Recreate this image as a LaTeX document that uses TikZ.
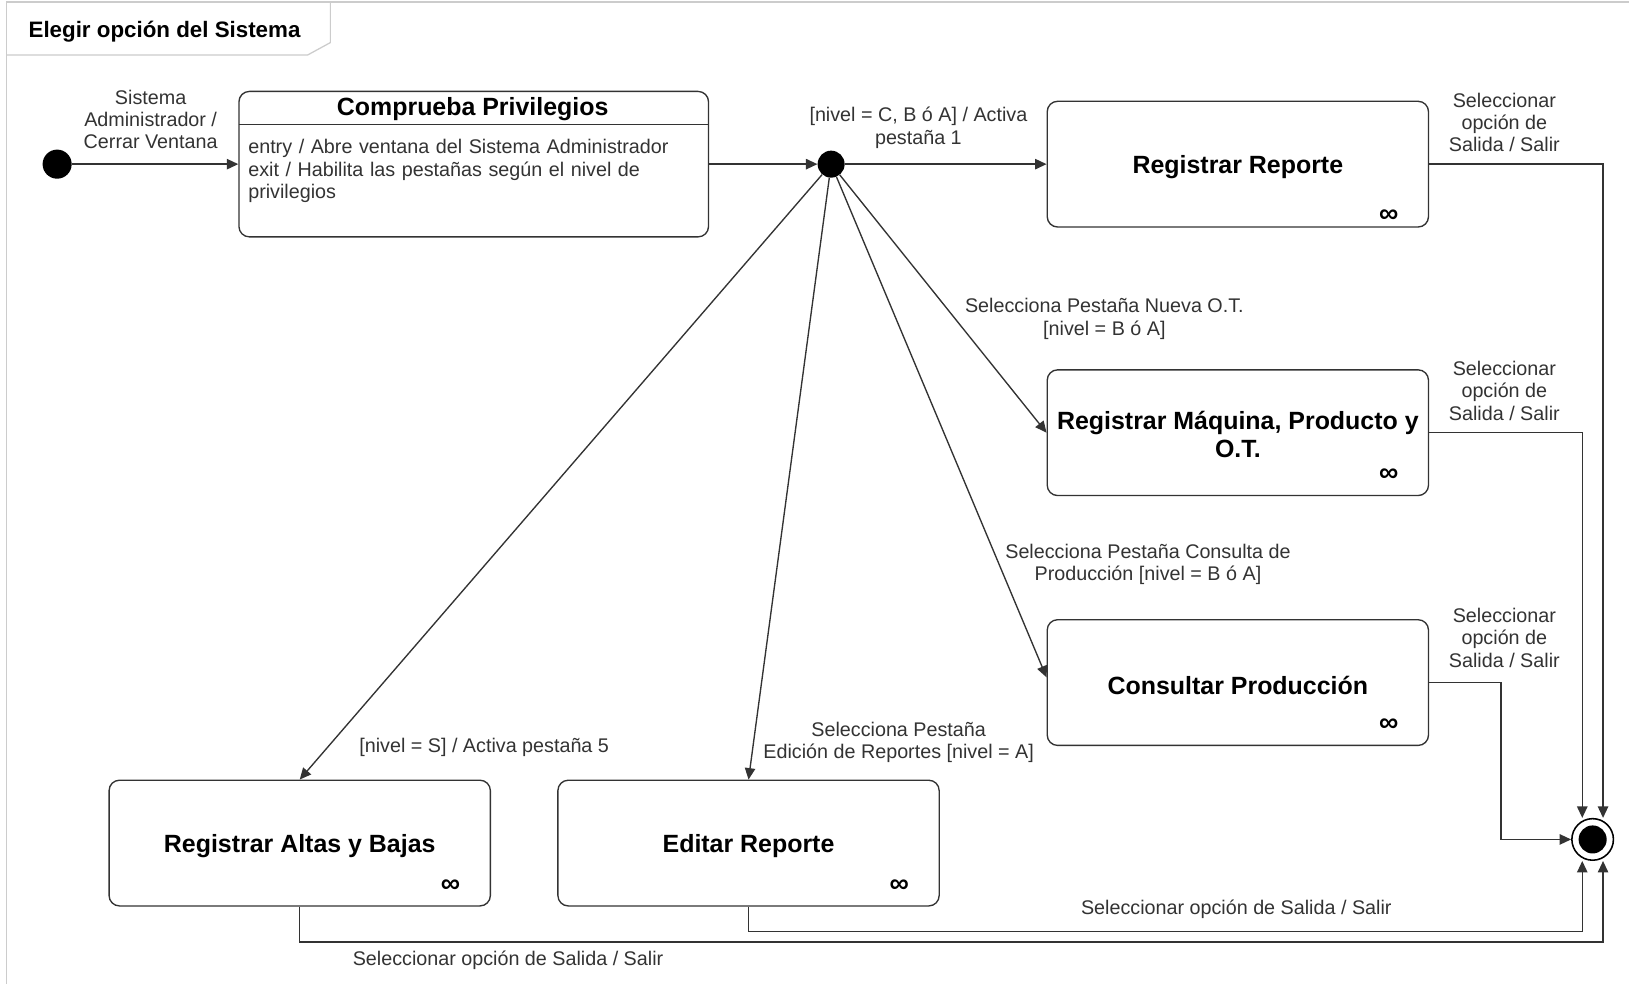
\documentclass[tikz,border=0pt]{standalone}
\usepackage{fontspec}
\setmainfont{Liberation Sans}
\usetikzlibrary{arrows.meta}
\definecolor{ln}{HTML}{333333}
\definecolor{lbl}{HTML}{333333}
\definecolor{frm}{HTML}{CCCCCC}

\begin{document}
\begin{tikzpicture}[x=1pt,y=-1pt,
  every node/.style={font=\fontsize{19}{21.5}\selectfont},
  stbox/.style={draw=ln, line width=1.3pt, rounded corners=10pt,
    minimum width=367pt, minimum height=121pt, inner sep=0pt},
  sttext/.style={align=center, inner sep=0pt, font=\fontsize{24}{27}\bfseries\selectfont},
  edge/.style={draw=ln, line width=1.3pt, -{Triangle[length=11pt,width=10pt]}},
  lab/.style={text=lbl, align=center, inner sep=0pt},
  inf/.style={font=\fontsize{26}{26}\bfseries\selectfont, inner sep=0pt}
]
\useasboundingbox (0,0) rectangle (1568,947);
\fill[white] (0,0) rectangle (1568,947);

% frame and its name tab
\draw[frm, line width=1.2pt] (6,947) -- (6,2) -- (1568,2);
\draw[frm, line width=1.2pt] (6,53) -- (296,53) -- (318,41) -- (318,2);
\node[anchor=west, font=\fontsize{21.5}{24}\bfseries\selectfont] (title) at (24,30.5) {Elegir opción del Sistema};

% pseudo-states
\node[circle, fill=black, minimum size=28pt, inner sep=0pt] (ini) at (55,158) {};
\node[circle, fill=black, minimum size=26pt, inner sep=0pt] (jn) at (800,158) {};
\node[circle, draw=black, line width=1.5pt, minimum size=40pt, inner sep=0pt,
  path picture={\fill[black] (path picture bounding box.center) circle (13.5pt);}] (fin) at (1533,808) {};

% composite state with entry/exit actions
\node[draw=ln, line width=1.3pt, rounded corners=10pt, minimum width=452pt,
  minimum height=140pt, inner sep=0pt] (comp) at (456,158) {};
\node[font=\fontsize{24}{27}\bfseries\selectfont, inner sep=0pt] (comptitle) at (455,105) {Comprueba Privilegios};
\draw[ln, line width=1.3pt] (230,120) -- (682,120);
\node[anchor=center, align=left, text=lbl, inner sep=0pt, text width=440pt] (compbody) at (459,164.5)
  {entry / Abre ventana del Sistema Administrador\\exit / Habilita las pestañas según el nivel de\\privilegios};

% states
\node[stbox] (RR) at (1191.5,158) {};
\node[stbox] (RM) at (1191.5,416.5) {};
\node[stbox] (CP) at (1191.5,657) {};
\node[stbox] (RA) at (288.5,811.5) {};
\node[stbox] (ER) at (720.5,811.5) {};

\node[sttext] (RRt) at ([yshift=-2.5pt]RR.center) {Registrar Reporte};
\node[sttext] (RMt) at ([yshift=-2pt]RM.center) {Registrar Máquina, Producto y\\O.T.};
\node[sttext] (CPt) at ([yshift=-2.5pt]CP.center) {Consultar Producción};
\node[sttext] (RAt) at ([yshift=-2.5pt]RA.center) {Registrar Altas y Bajas};
\node[sttext] (ERt) at ([yshift=-2.5pt]ER.center) {Editar Reporte};

\node[inf] (rr8) at ([xshift=-39pt,yshift=11pt]RR.south east) {∞};
\node[inf] (rm8) at ([xshift=-39pt,yshift=20pt]RM.south east) {∞};
\node[inf] (cp8) at ([xshift=-39pt,yshift=20pt]CP.south east) {∞};
\node[inf] (ra8) at ([xshift=-39pt,yshift=20pt]RA.south east) {∞};
\node[inf] (er8) at ([xshift=-39pt,yshift=20pt]ER.south east) {∞};

% transitions
\draw[edge] (ini) -- (comp);
\draw[edge] (comp) -- (jn);
\draw[edge] (jn) -- (RR);
\draw[edge] (jn) -- (RM.west);
\draw[edge] (jn) -- ([yshift=5pt]CP.west);
\draw[edge] (jn) -- (ER.north);
\draw[edge] (jn) -- (RA.north);

\draw[edge] (RR.east) -| ([xshift=10pt]fin.north);
\draw[edge] (RM.east) -| ([xshift=-10pt]fin.north);
\draw[edge] (CP.east) -- ([xshift=69pt]CP.east) |- (fin);
\draw[edge] (ER.south) -- ++(0,24) -| ([xshift=-10pt]fin.south);
\draw[edge] (RA.south) -- ++(0,34) -| ([xshift=10pt]fin.south);

% transition labels
\node[lab] (l1) at (145,115) {Sistema\\Administrador /\\Cerrar Ventana};
\node[lab] (l2) at (884,123) {[nivel = C, B ó A] / Activa\\pestaña 1};
\node[lab] (l3) at (1063,307) {Selecciona Pestaña Nueva O.T.\\{}[nivel = B ó A]};
\node[lab] (l4) at (1105,543) {Selecciona Pestaña Consulta de\\Producción [nivel = B ó A]};
\node[lab] (l5) at (865,714.5) {Selecciona Pestaña\\Edición de Reportes [nivel = A]};
\node[lab] (l6) at (466,719) {[nivel = S] / Activa pestaña 5};
\node[lab] (l7) at (1448,118) {Seleccionar\\opción de\\Salida / Salir};
\node[lab] (l8) at (1448,376) {Seleccionar\\opción de\\Salida / Salir};
\node[lab] (l9) at (1448,614) {Seleccionar\\opción de\\Salida / Salir};
\node[lab] (l10) at (1190,875) {Seleccionar opción de Salida / Salir};
\node[lab] (l11) at (489,924) {Seleccionar opción de Salida / Salir};
\end{tikzpicture}
\end{document}
